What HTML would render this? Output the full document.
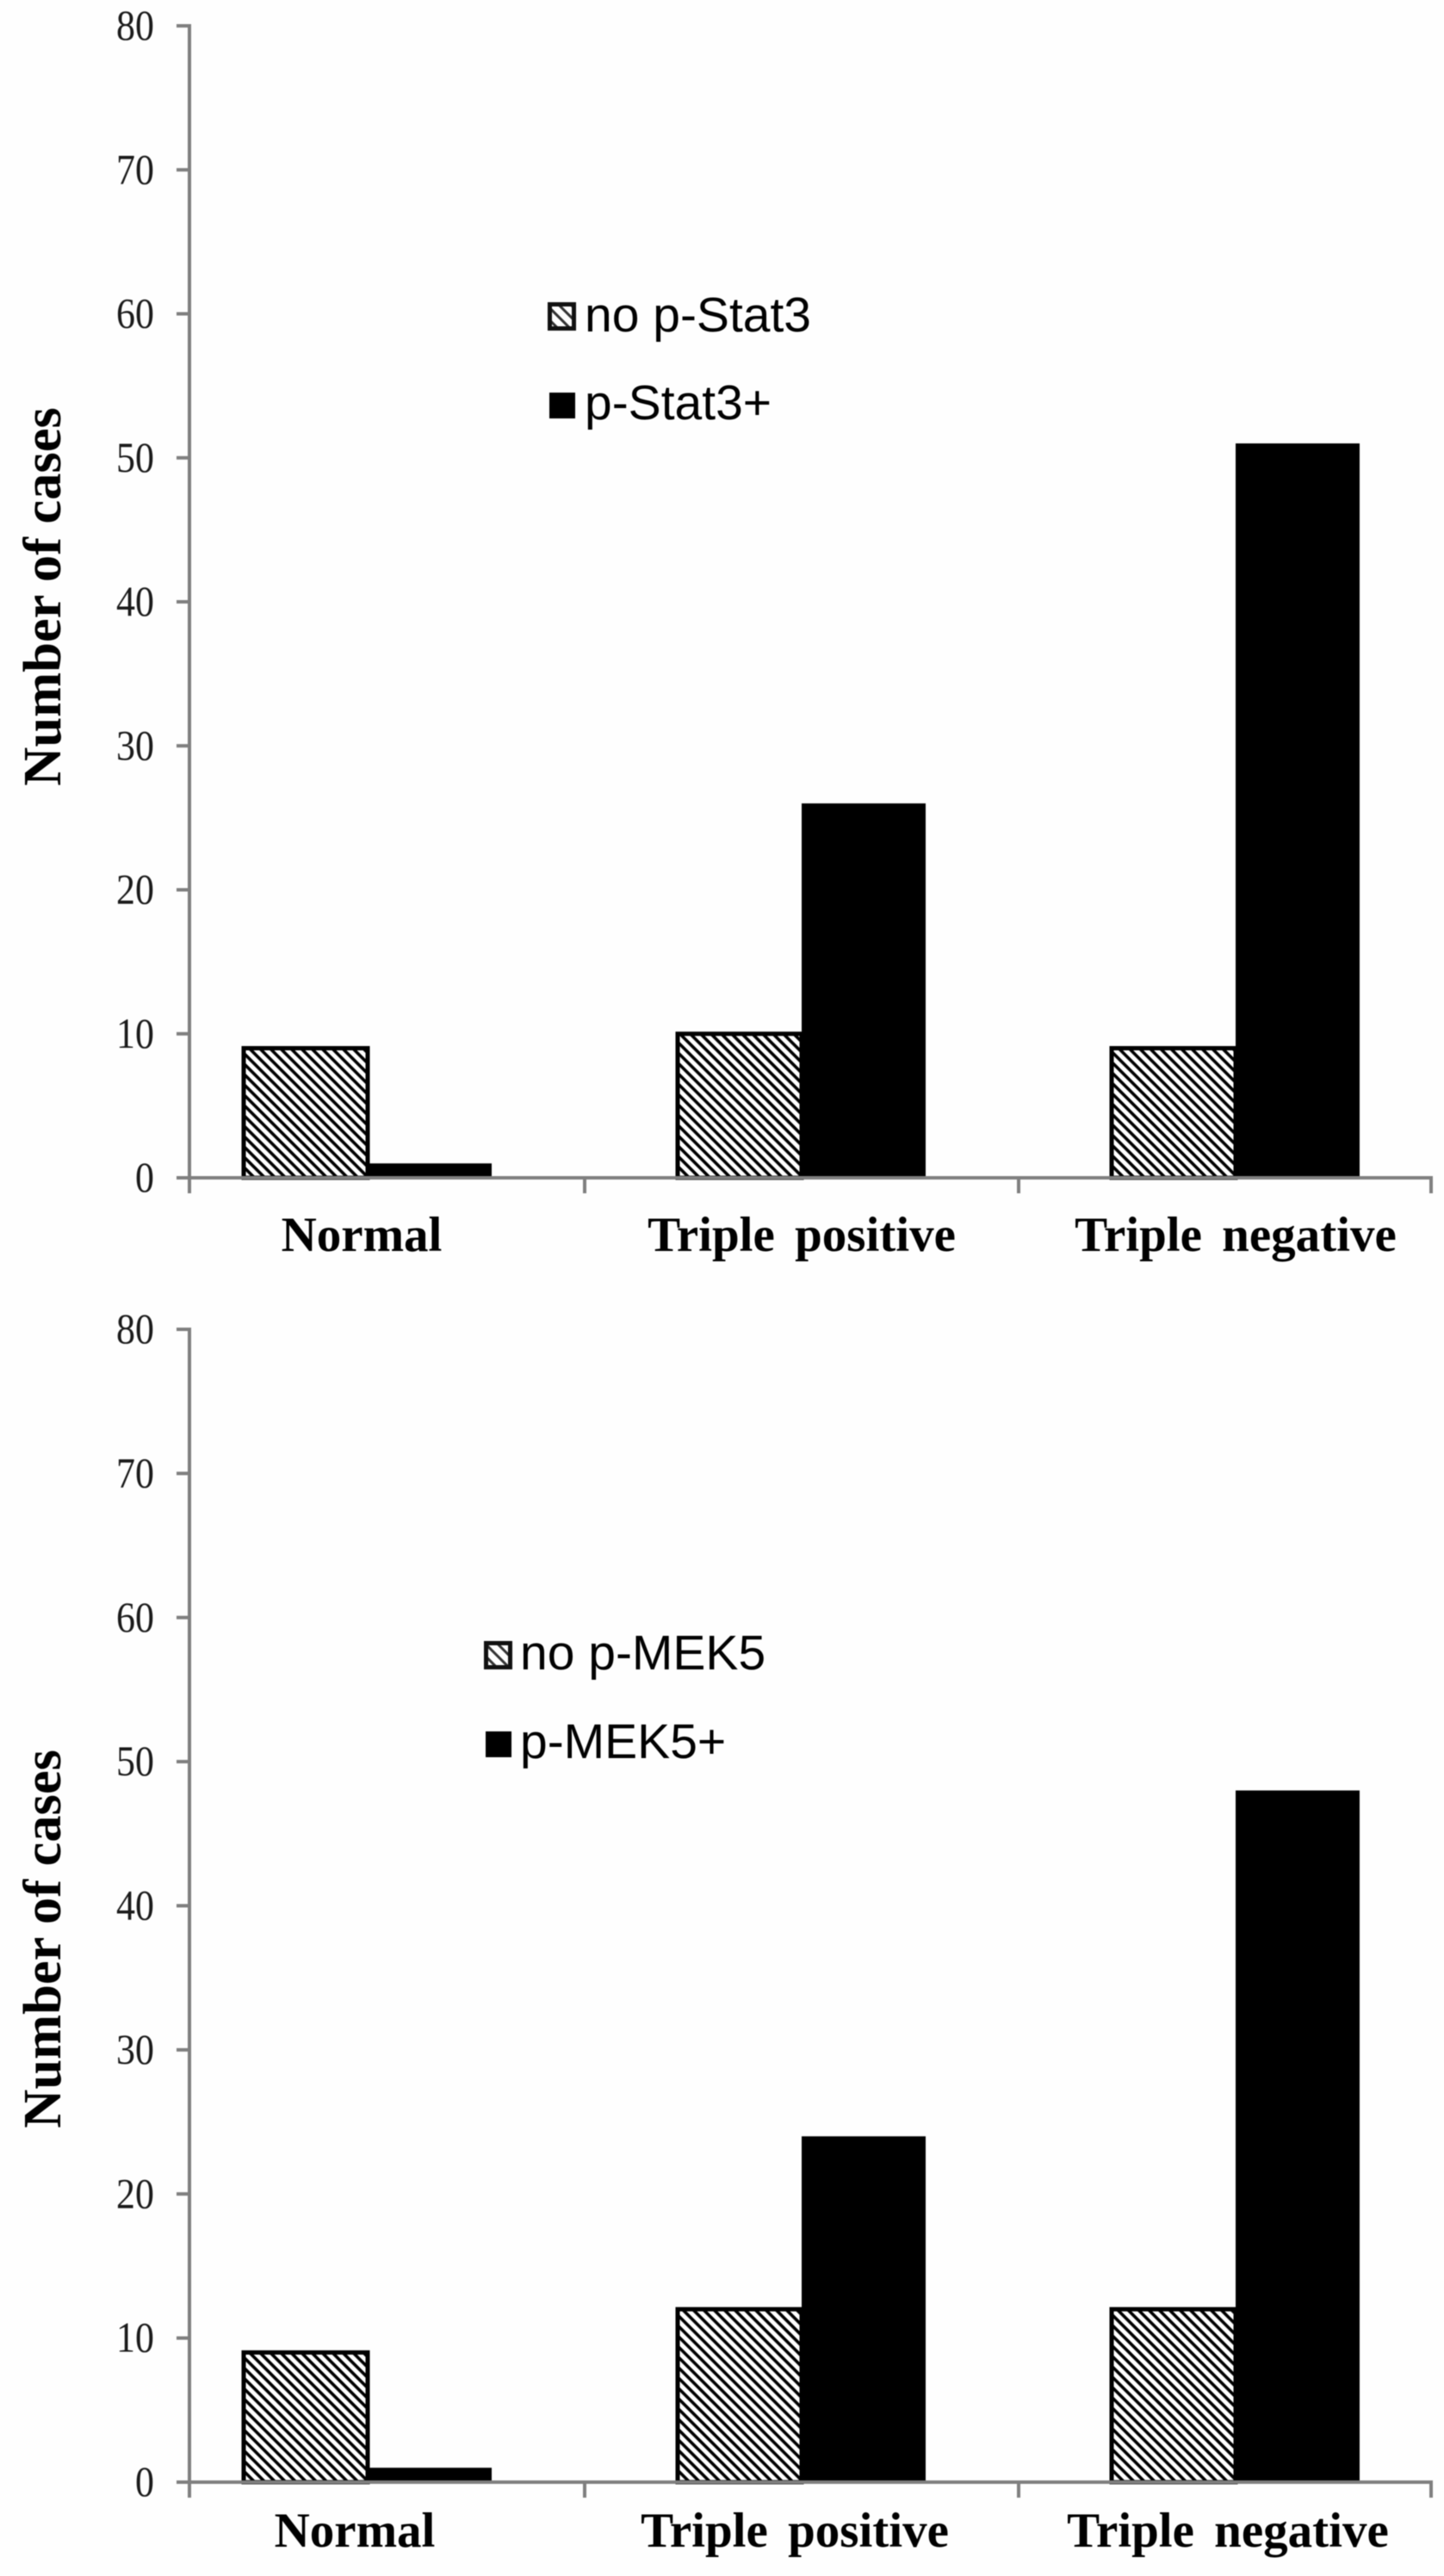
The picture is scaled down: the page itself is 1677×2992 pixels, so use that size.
<!DOCTYPE html>
<html lang="en">
<head>
<meta charset="utf-8">
<title>Number of cases by tumour subtype</title>
<style>
  html, body { margin: 0; padding: 0; background: #fefefe; }
  #figure { display: block; width: 1677px; height: 2992px; filter: blur(0.6px); }
  .tick-label { font-family: "Liberation Serif", serif; font-size: 50px; fill: #1a1a1a; }
  .cat-label { font-family: "Liberation Serif", serif; font-weight: bold; font-size: 57px; word-spacing: 9px; fill: #000; }
  .axis-title { font-family: "Liberation Serif", serif; font-weight: bold; font-size: 62.5px; fill: #000; }
  .legend-label { font-family: "Liberation Sans", sans-serif; font-size: 57px; fill: #000; }
</style>
</head>
<body>
<svg id="figure" xmlns="http://www.w3.org/2000/svg" width="1677" height="2992" viewBox="0 0 1677 2992">
  <defs>
    <pattern id="hatch" patternUnits="userSpaceOnUse" width="8.5" height="8.5" patternTransform="rotate(45)">
      <rect width="8.5" height="8.5" fill="#fff"></rect>
      <rect width="8.5" height="3.6" fill="#000"></rect>
    </pattern>
    <pattern id="hatch-small" patternUnits="userSpaceOnUse" width="10" height="10" patternTransform="rotate(45)">
      <rect width="10" height="10" fill="#fff"></rect>
      <rect width="10" height="3" fill="#333"></rect>
    </pattern>
  </defs>
</svg>
<script>
// Shared chart data
const categories = ["Normal", "Triple positive", "Triple negative"];
const yTicks = [0, 10, 20, 30, 40, 50, 60, 70, 80];

// Top chart series
const stat3Negative = [9, 10, 9];
const stat3Positive = [1, 26, 51];

// Bottom chart series
const mek5Negative = [9, 12, 12];
const mek5Positive = [1, 24, 48];

const NS = "http://www.w3.org/2000/svg";
const svg = document.getElementById("figure");

function make(parent, tag, attrs, text) {
  const el = document.createElementNS(NS, tag);
  for (const k in attrs) el.setAttribute(k, attrs[k]);
  if (text !== undefined) el.textContent = text;
  parent.appendChild(el);
  return el;
}

function drawChart(cfg) {
  const axisLeft = 220;
  const axisRight = 1662;
  const yMax = 80;
  const firstCenter = 427;
  const groupStep = 504;
  const barWidth = 144;
  const y = v => cfg.y0 - (v / yMax) * (cfg.y0 - cfg.yTop);
  const center = i => firstCenter + groupStep * i;
  const catTick = i => Math.min(center(i) + groupStep / 2, axisRight);

  const g = make(svg, "g", {});
  
  

  categories.forEach((cat, i) => {
    const negTop = y(cfg.negative[i]);
    const neg = make(g, "rect", {
      x: center(i) - barWidth,
      y: negTop,
      width: barWidth,
      height: Math.max(cfg.y0 - negTop, 0),
      fill: "url(#hatch)",
      stroke: "#000",
      "stroke-width": 5
    });
    
    

    const posTop = y(cfg.positive[i]);
    const pos = make(g, "rect", {
      x: center(i),
      y: posTop,
      width: barWidth,
      height: Math.max(cfg.y0 - posTop, 0),
      fill: "#000"
    });
    
    

    const label = make(g, "text", {
      class: "cat-label",
      x: center(i) + cfg.labelShift[i],
      y: cfg.labelBaseline,
      "text-anchor": "middle"
    }, cat);
    
    
  });

  const axisStyle = { stroke: "#7f7f7f", "stroke-width": 4, fill: "none" };

  const yAxis = make(g, "line", Object.assign({ x1: axisLeft, x2: axisLeft, y1: y(yMax) - 2, y2: cfg.y0 + 18 }, axisStyle));
  
  

  const xAxis = make(g, "line", Object.assign({ x1: axisLeft, x2: axisRight + 2, y1: cfg.y0, y2: cfg.y0 }, axisStyle));
  
  

  yTicks.forEach(t => {
    const mark = make(g, "line", Object.assign({ x1: axisLeft - 15, x2: axisLeft, y1: y(t), y2: y(t) }, axisStyle));
    
    

    const tl = make(g, "text", {
      class: "tick-label",
      x: 0,
      y: 0,
      "text-anchor": "end",
      transform: "translate(179 " + (y(t) + 16) + ") scale(0.88 1)"
    }, String(t));
    
    
  });

  categories.forEach((cat, i) => {
    const mark = make(g, "line", Object.assign({ x1: catTick(i), x2: catTick(i), y1: cfg.y0, y2: cfg.y0 + 18 }, axisStyle));
    
    
  });

  const titleY = cfg.titleCenter;
  const title = make(g, "text", {
    class: "axis-title",
    x: 0,
    y: 0,
    "text-anchor": "middle",
    transform: "translate(70 " + titleY + ") rotate(-90)"
  }, "Number of cases");
  
  

  const swatchA = make(g, "rect", {
    x: cfg.legend.hatchX + 2.5,
    y: cfg.legend.hatchY + 2.5,
    width: 28,
    height: 28,
    fill: "url(#hatch-small)",
    stroke: "#111",
    "stroke-width": 5
  });
  
  

  const labelA = make(g, "text", {
    class: "legend-label",
    x: cfg.legend.textX,
    y: cfg.legend.baseA
  }, cfg.legend.textA);
  
  

  const swatchB = make(g, "rect", {
    x: cfg.legend.hatchX + 2,
    y: cfg.legend.solidY,
    width: 30,
    height: 30,
    fill: "#000"
  });
  
  

  const labelB = make(g, "text", {
    class: "legend-label",
    x: cfg.legend.textX,
    y: cfg.legend.baseB
  }, cfg.legend.textB);
  
  
}

drawChart({
  name: "chart-p-stat3",
  yTop: 30,
  y0: 1368,
  negative: stat3Negative,
  positive: stat3Positive,
  labelShift: [-7, 0, 0],
  labelBaseline: 1453,
  titleCenter: 693,
  legend: {
    hatchX: 636, hatchY: 351, solidY: 456, textX: 679,
    baseA: 385, baseB: 487,
    textA: "no p-Stat3", textB: "p-Stat3+"
  }
});

drawChart({
  name: "chart-p-mek5",
  yTop: 1544,
  y0: 2883,
  negative: mek5Negative,
  positive: mek5Positive,
  labelShift: [-15, -8, -9],
  labelBaseline: 2958,
  titleCenter: 2252,
  legend: {
    hatchX: 562, hatchY: 1906, solidY: 2011, textX: 604,
    baseA: 1939, baseB: 2042,
    textA: "no p-MEK5", textB: "p-MEK5+"
  }
});
</script>
</body>
</html>
